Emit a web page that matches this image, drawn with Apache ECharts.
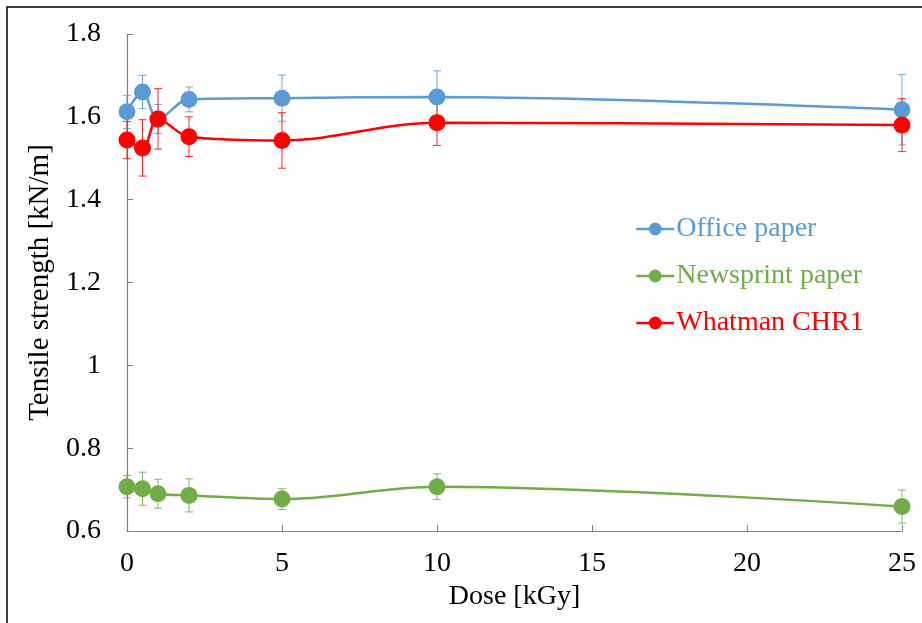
<!DOCTYPE html>
<html>
<head>
<meta charset="utf-8">
<script src="https://cdn.jsdelivr.net/npm/echarts@6/dist/echarts.min.js"></script>
<style>
html,body{margin:0;padding:0;background:#fff;}
#chart{width:922px;height:623px;}
</style>
</head>
<body>
<div id="chart"></div>
<script>
var doses = [0, 0.5, 1, 2, 5, 10, 25];
var officeVals = [1.612, 1.660, 1.595, 1.642, 1.645, 1.648, 1.617];
var officeErr = [0.040, 0.040, 0.035, 0.030, 0.056, 0.063, 0.085];
var newsVals = [0.707, 0.702, 0.690, 0.686, 0.677, 0.707, 0.659];
var newsErr = [0.027, 0.040, 0.035, 0.040, 0.025, 0.031, 0.040];
var whatVals = [1.544, 1.525, 1.595, 1.552, 1.543, 1.586, 1.580];
var whatErr = [0.045, 0.068, 0.073, 0.048, 0.067, 0.055, 0.064];
var xTicks = [0, 5, 10, 15, 20, 25];
var yTicks = [0.6, 0.8, 1, 1.2, 1.4, 1.6, 1.8];

var seriesNames = ['Office paper', 'Newsprint paper', 'Whatman CHR1'];
var colors = ['#5B9BD5', '#70AD47', '#FF0000'];
var allVals = [officeVals, newsVals, whatVals];
var allErr = [officeErr, newsErr, whatErr];

var FONT = '"Liberation Serif", "Times New Roman", serif';
var FS = 28;

function pts(vals) {
  return doses.map(function (d, i) { return [d, vals[i]]; });
}
function errData(vals, errs) {
  return doses.map(function (d, i) { return [d, vals[i] - errs[i], vals[i] + errs[i]]; });
}
function errSeries(idx) {
  var col = colors[idx];
  return {
    type: 'custom',
    name: seriesNames[idx] + ' err',
    z: 1,
    silent: true,
    data: errData(allVals[idx], allErr[idx]),
    encode: { x: 0, y: [1, 2] },
    renderItem: function (params, api) {
      var lo = api.coord([api.value(0), api.value(1)]);
      var hi = api.coord([api.value(0), api.value(2)]);
      var w = 4;
      var style = { stroke: col, lineWidth: 1, opacity: 0.85 };
      return {
        type: 'group',
        children: [
          { type: 'line', shape: { x1: lo[0], y1: lo[1], x2: hi[0], y2: hi[1] }, style: style },
          { type: 'line', shape: { x1: lo[0] - w, y1: lo[1], x2: lo[0] + w, y2: lo[1] }, style: style },
          { type: 'line', shape: { x1: hi[0] - w, y1: hi[1], x2: hi[0] + w, y2: hi[1] }, style: style }
        ]
      };
    }
  };
}
function lineSeries(idx) {
  return {
    type: 'line',
    name: seriesNames[idx],
    z: 3,
    data: pts(allVals[idx]),
    smooth: 0.35,
    symbol: 'circle',
    symbolSize: 17,
    color: colors[idx],
    lineStyle: { width: 2.5, color: colors[idx] },
    itemStyle: { color: colors[idx] }
  };
}

var series = [];
for (var i = 0; i < 3; i++) series.push(errSeries(i));
for (var j = 0; j < 3; j++) series.push(lineSeries(j));

var chart = echarts.init(document.getElementById('chart'), null, { renderer: 'canvas' });
chart.setOption({
  animation: false,
  backgroundColor: '#fff',
  grid: { left: 127, right: 20, top: 34, bottom: 92 },
  graphic: [{
    type: 'rect',
    shape: { x: 7, y: 7, width: 940, height: 640 },
    style: { fill: 'none', stroke: '#000', lineWidth: 1.5 },
    silent: true
  }],
  legend: {
    orient: 'vertical',
    left: 630,
    top: 210,
    itemWidth: 38,
    itemHeight: 16,
    itemGap: 19,
    data: seriesNames.map(function (n, k) {
      return { name: n, textStyle: { color: colors[k] } };
    }),
    lineStyle: { width: 2.5 },
    textStyle: { fontFamily: FONT, fontSize: FS, padding: [0, 0, 0, -3] }
  },
  xAxis: {
    type: 'value',
    min: 0, max: 25, interval: 5,
    name: 'Dose [kGy]',
    nameLocation: 'middle',
    nameGap: 42,
    nameTextStyle: { fontFamily: FONT, fontSize: FS, color: '#000' },
    axisLine: { lineStyle: { color: '#7f7f7f', width: 1.2 } },
    axisTick: { inside: true, length: 6, lineStyle: { color: '#7f7f7f' } },
    axisLabel: {
      fontFamily: FONT, fontSize: FS, color: '#000', margin: 19,
      customValues: xTicks
    },
    splitLine: { show: false }
  },
  yAxis: {
    type: 'value',
    min: 0.6, max: 1.8, interval: 0.2,
    name: 'Tensile strength [kN/m]',
    nameLocation: 'middle',
    nameGap: 66,
    nameRotate: 90,
    nameTextStyle: { fontFamily: FONT, fontSize: 29, color: '#000' },
    axisLine: { show: true, lineStyle: { color: '#7f7f7f', width: 1.2 } },
    axisTick: { show: true, inside: true, length: 6, lineStyle: { color: '#7f7f7f' } },
    axisLabel: {
      fontFamily: FONT, fontSize: FS, color: '#000', margin: 26,
      formatter: function (v) { return String(Math.round(v * 10) / 10); },
      customValues: yTicks
    },
    splitLine: { show: false }
  },
  series: series
});
</script>
</body>
</html>
